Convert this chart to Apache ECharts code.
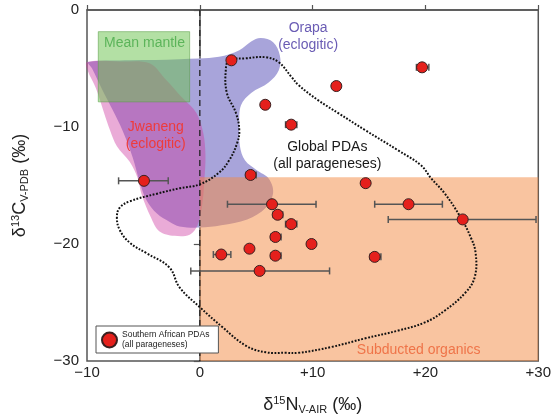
<!DOCTYPE html>
<html>
<head>
<meta charset="utf-8">
<script src="https://cdn.jsdelivr.net/npm/echarts@6/dist/echarts.min.js"></script>
<style>
  html, body { margin: 0; padding: 0; background: #fff; }
  #chart { width: 554px; height: 420px; }
</style>
</head>
<body>
<div id="chart"></div>
<script>
  // axis ranges
  const xRange = [-10, 30]
  const yRange = [-30, 0]

  // Southern African PDAs (d15N, d13C)
  const pdaN = [2.8, 19.7, 12.1, 5.8, 8.1, 4.5, -4.95, 14.7, 6.4, 18.5, 6.9, 23.3, 8.1, 6.7, 9.9, 4.4, 1.9, 6.7, 15.5, 5.3]
  const pdaC = [-4.3, -4.9, -6.5, -8.1, -9.8, -14.1, -14.6, -14.8, -16.6, -16.6, -17.5, -17.9, -18.3, -19.4, -20.0, -20.4, -20.9, -21.0, -21.1, -22.3]
  // d15N error range, null = no bar
  const errLow  = [null, 19.2, null, null, 7.6, 4.1, -7.2, null, 2.45, 15.5, 6.5, 16.7, 7.6, 6.3, null, null, 1.2, 6.3, 15.1, -0.8]
  const errHigh = [null, 20.3, null, null, 8.6, 5.0, -2.8, null, 10.3, 21.5, 7.35, 29.8, 8.6, 7.2, null, null, 2.75, 7.2, 16.05, 11.5]

  // fields
  const meanMantleN = [-9.0, -0.9]
  const meanMantleC = [-7.85, -1.85]
  const organicsN = [0, 30]
  const organicsC = [-30, -14.3]

  const jwaneng = [
    [-10, -4.45], [-7.1, -4.4], [-4.45, -4.55], [-3.1, -5.85], [-1.55, -7.5], [-0.3, -8.8],
    [0.3, -10.5], [0.5, -12.4], [0.4, -14.6], [0.2, -16.7], [-0.2, -18.4], [-0.9, -19.2],
    [-2.25, -19.3], [-3.6, -18.9], [-4.35, -17.7], [-5.15, -15.8], [-5.5, -14.4], [-6.2, -13.0],
    [-7.35, -11.65], [-7.95, -10.3], [-8.5, -8.75], [-9.2, -6.7], [-9.95, -5.15]
  ]
  const orapa = [
    [-9.9, -4.45], [-6.2, -4.3], [-1.8, -4.2], [1.7, -4.0], [3.5, -3.45], [4.55, -2.7],
    [5.4, -2.4], [6.5, -2.75], [7.1, -3.9], [7.0, -5.15], [6.1, -6.2], [4.55, -7.1],
    [3.65, -8.15], [3.5, -9.85], [3.55, -11.6], [4.0, -12.85], [5.05, -13.7], [6.1, -14.4],
    [6.5, -15.6], [5.85, -16.9], [4.2, -17.9], [1.9, -18.4], [0.0, -18.6], [-1.8, -18.5],
    [-2.7, -18.1], [-3.8, -17.4], [-4.7, -16.3], [-5.3, -14.8], [-5.95, -12.6], [-6.85, -10.3],
    [-7.7, -8.6], [-8.7, -6.7], [-9.55, -5.0]
  ]
  const globalPDAs = [
    [2.6, -4.3], [4.1, -4.13], [5.85, -4.04], [7.0, -4.47], [8.15, -5.75], [8.77, -6.44],
    [10.5, -7.72], [12.3, -8.83], [14.67, -10.28], [17.58, -12.0], [19.6, -13.27], [20.5, -14.38],
    [21.7, -15.67], [23.1, -17.7], [24.0, -19.4], [24.45, -20.8], [24.36, -22.85], [23.5, -24.2],
    [21.7, -25.7], [19.96, -26.7], [17.58, -27.4], [14.67, -28.06], [11.67, -28.8], [8.77, -29.3],
    [7.6, -29.3], [5.86, -29.26], [4.1, -28.7], [2.0, -27.1], [0.0, -25.4], [-1.8, -23.7],
    [-2.7, -22.0], [-4.7, -20.8], [-6.2, -19.9], [-7.1, -18.8], [-7.35, -17.7], [-7.1, -16.9],
    [-6.2, -16.35], [-3.8, -15.7], [-1.8, -15.24], [0.0, -14.9], [1.7, -13.9], [2.6, -12.85],
    [3.3, -11.4], [3.5, -10.3], [3.2, -8.8], [2.4, -7.1], [2.3, -5.15]
  ]
  const zeroLine = [[0, 0], [0, -30]]

  // annotations
  const noteText = ['Mean mantle', 'Orapa\n(eclogitic)', 'Jwaneng\n(eclogitic)', 'Global PDAs\n(all parageneses)', 'Subducted organics']
  const noteN = [-4.9, 9.6, -3.9, 11.3, 19.4]
  const noteC = [-2.85, -2.25, -10.75, -12.45, -29.1]
  const noteColor = ['#5cb45a', '#6a5cb4', '#ee3b3b', '#1a1a1a', '#ef7449']

  const FONT = 'Liberation Sans, Arial, Helvetica, sans-serif'

  const fmtSigned = v => v > 0 ? '+' + v : (v < 0 ? '\u2212' + (-v) : '0')

  const shapeSeries = (name, pts, style, z, smooth) => ({
    type: 'custom', name, z, silent: true, data: [0],
    renderItem: (params, api) => ({
      type: 'polygon',
      shape: { points: pts.map(p => api.coord(p)), smooth: smooth },
      style
    })
  })

  const rectSeries = (name, xs, ys, style, z) => ({
    type: 'custom', name, z, silent: true, data: [0],
    renderItem: (params, api) => {
      const a = api.coord([xs[0], ys[1]])
      const b = api.coord([xs[1], ys[0]])
      return { type: 'rect', shape: { x: a[0], y: a[1], width: b[0] - a[0], height: b[1] - a[1] }, style }
    }
  })

  const pdaData = pdaN.map((n, i) => [n, pdaC[i]])
  const errData = pdaN.map((n, i) => [n, pdaC[i], errLow[i], errHigh[i]]).filter(d => d[2] !== null)

  const chart = echarts.init(document.getElementById('chart'), null, { renderer: 'canvas' })
  const option = {
    backgroundColor: '#fff',
    animation: false,
    textStyle: { fontFamily: FONT },
    grid: {
      left: 87, right: 13, top: 10, bottom: 59,
      show: true, borderColor: '#555', borderWidth: 1.5
    },
    legend: {
      data: [{ name: 'Southern African PDAs', icon: 'circle' }],
      formatter: () => 'Southern African PDAs\n(all parageneses)',
      left: 96, top: 326,
      padding: [4, 9, 3, 5],
      itemWidth: 15, itemHeight: 15, itemGap: 6,
      backgroundColor: '#fff', borderColor: '#555', borderWidth: 1,
      textStyle: { fontSize: 8.5, lineHeight: 10, color: '#222', fontFamily: FONT },
      selectedMode: false, z: 20
    },
    xAxis: {
      type: 'value', min: xRange[0], max: xRange[1], interval: 10,
      axisLine: { show: true, lineStyle: { color: '#555', width: 1.5 } },
      axisTick: { show: true, inside: true, length: 5, lineStyle: { color: '#555', width: 1.2 } },
      splitLine: { show: false },
      axisLabel: { formatter: fmtSigned, fontSize: 15, color: '#222', margin: 4, fontFamily: FONT },
      name: '{t|δ}{sup|15}{t|N}{sub|V-AIR}{t| (‰)}',
      nameLocation: 'middle', nameGap: 34,
      nameTextStyle: {
        fontFamily: FONT,
        rich: {
          t: { fontSize: 18, color: '#222', fontFamily: FONT },
          sup: { fontSize: 11, color: '#222', padding: [0, 0, 9, 0], fontFamily: FONT },
          sub: { fontSize: 11, color: '#222', padding: [9, 0, 0, 0], fontFamily: FONT }
        }
      }
    },
    yAxis: {
      type: 'value', min: yRange[0], max: yRange[1], interval: 10,
      axisLine: { show: true, lineStyle: { color: '#555', width: 1.5 } },
      axisTick: { show: true, inside: false, length: 6, lineStyle: { color: '#555', width: 1.2 } },
      splitLine: { show: false },
      axisLabel: { formatter: fmtSigned, fontSize: 15, color: '#222', margin: 8, fontFamily: FONT },
      name: '{t|δ}{sup|13}{t|C}{sub|V-PDB}{t| (‰)}',
      nameLocation: 'middle', nameGap: 57, nameRotate: 90,
      nameTextStyle: {
        fontFamily: FONT,
        rich: {
          t: { fontSize: 18, color: '#222', fontFamily: FONT },
          sup: { fontSize: 11, color: '#222', padding: [0, 0, 9, 0], fontFamily: FONT },
          sub: { fontSize: 11, color: '#222', padding: [9, 0, 0, 0], fontFamily: FONT }
        }
      }
    },
    series: [
      shapeSeries('Orapa', orapa, { fill: '#a8a4da' }, 1, 0.35),
      shapeSeries('Jwaneng', jwaneng, { fill: 'rgba(205,55,160,0.42)' }, 2, 0.35),
      rectSeries('Subducted organics', organicsN, organicsC, { fill: 'rgba(243,137,65,0.5)' }, 3),
      rectSeries('Mean mantle', meanMantleN, meanMantleC,
        { fill: 'rgba(110,195,80,0.52)', stroke: 'rgba(90,160,70,0.7)', lineWidth: 0.8 }, 4),
      {
        type: 'line', name: 'zero', data: zeroLine, z: 5, silent: true,
        symbol: 'none', lineStyle: { color: '#222', width: 1.3, type: [6, 4] }
      },
      shapeSeries('Global PDAs', globalPDAs,
        { fill: null, stroke: '#111', lineWidth: 2, lineDash: [1.8, 1.6] }, 6, 0.4),
      {
        type: 'custom', name: 'notes', z: 7, silent: true,
        data: noteText.map((t, i) => [noteN[i], noteC[i], i]),
        renderItem: (params, api) => {
          const i = api.value(2)
          const p = api.coord([api.value(0), api.value(1)])
          return {
            type: 'text', x: p[0], y: p[1],
            style: {
              text: noteText[i], fill: noteColor[i], font: '14px ' + FONT,
              align: 'center', verticalAlign: 'middle', lineHeight: 17
            }
          }
        }
      },
      {
        type: 'custom', name: 'errors', z: 8, silent: true,
        data: errData,
        renderItem: (params, api) => {
          const a = api.coord([api.value(2), api.value(1)])
          const b = api.coord([api.value(3), api.value(1)])
          const st = { stroke: '#555', lineWidth: 1.5 }
          return {
            type: 'group',
            children: [
              { type: 'line', shape: { x1: a[0], y1: a[1], x2: b[0], y2: b[1] }, style: st },
              { type: 'line', shape: { x1: a[0], y1: a[1] - 3.5, x2: a[0], y2: a[1] + 3.5 }, style: st },
              { type: 'line', shape: { x1: b[0], y1: b[1] - 3.5, x2: b[0], y2: b[1] + 3.5 }, style: st }
            ]
          }
        }
      },
      {
        type: 'scatter', name: 'Southern African PDAs', z: 9,
        data: pdaData, symbol: 'circle', symbolSize: 11,
        itemStyle: { color: '#e5201c', borderColor: '#3a2020', borderWidth: 1, opacity: 1 }
      }
    ]
  }
  chart.setOption(option)
</script>
</body>
</html>
